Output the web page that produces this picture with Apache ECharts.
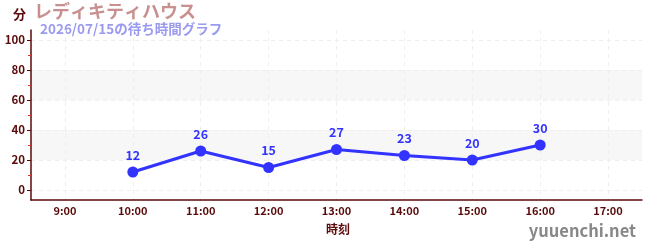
<!DOCTYPE html>
<html><head><meta charset="utf-8">
<script src="https://cdn.jsdelivr.net/npm/echarts@6/dist/echarts.min.js"></script>
<style>html,body{margin:0;padding:0;background:#fff}#c{width:650px;height:250px}</style>
</head><body><div id="c"></div>
<script>
const categories = ['9:00','10:00','11:00','12:00','13:00','14:00','15:00','16:00','17:00'];
const waitTimes = [null, 12, 26, 15, 27, 23, 20, 30, null];
const yMajorTicks = [0, 20, 40, 60, 80, 100];
const yMinorTicks = [10, 30, 50, 70, 90];
const titleText = 'レディキティハウス';
const subtitleText = '2026/07/15の待ち時間グラフ';
const yUnit = '分';
const xName = '時刻';
const siteName = 'yuuenchi.net';

const FONT = '"Noto Sans CJK JP", "Noto Sans", sans-serif';
const DARK = '#5a0a0a';
const half = 611 / 9 / 2;
const chart = echarts.init(document.getElementById('c'));
chart.setOption({
  animation: false,
  textStyle: { fontFamily: FONT },
  graphic: [
    { type: 'text', left: 13, top: 8, style: { text: yUnit, fill: DARK, font: 'bold 13px ' + FONT } },
    { type: 'text', left: 34, top: 2, style: { text: titleText, fill: '#c89090', font: 'bold 18px ' + FONT } },
    { type: 'text', left: 40, top: 22, style: { text: subtitleText, fill: '#9a9af0', font: 'bold 13.5px ' + FONT } },
    { type: 'text', left: 326, top: 223, style: { text: xName, fill: DARK, font: 'bold 12px ' + FONT } },
    { type: 'text', right: 14, top: 222, style: { text: siteName, fill: '#888', font: 'bold 16.5px ' + FONT } }
  ],
  grid: [
    { left: 31, right: 8, top: 30, bottom: 50 },
    { left: 31, right: 8, top: 40, bottom: 60 },
    { left: 31 + half, right: 8 + half, top: 30, bottom: 50 }
  ],
  xAxis: [
    { type: 'category', gridIndex: 0, data: categories, boundaryGap: true,
      axisLine: { onZero: false, lineStyle: { color: DARK, width: 1.5 } },
      axisTick: { alignWithLabel: true, length: 4, lineStyle: { color: '#666' } },
      axisLabel: { color: DARK, fontWeight: 'bold', fontSize: 11, margin: 5 },
      splitLine: { show: false } },
    { type: 'category', gridIndex: 1, data: categories, show: false },
    { type: 'category', gridIndex: 2, data: categories, boundaryGap: false,
      axisLine: { show: false }, axisTick: { show: false }, axisLabel: { show: false },
      splitLine: { show: true, interval: 0, lineStyle: { color: '#eee', type: [4, 4] } } }
  ],
  yAxis: [
    { type: 'value', gridIndex: 0, min: -20/3, max: 320/3,
      axisLine: { show: true, lineStyle: { color: DARK, width: 1.5 } },
      axisTick: { show: true, length: 4, inside: false, customValues: yMajorTicks, lineStyle: { color: DARK } },
      axisLabel: { color: DARK, fontWeight: 'bold', fontSize: 11.5, margin: 6, customValues: yMajorTicks },
      splitLine: { show: false } },
    { type: 'value', gridIndex: 0, min: -20/3, max: 320/3, position: 'left',
      axisLine: { show: false },
      axisTick: { show: true, length: 3, customValues: yMinorTicks, lineStyle: { color: '#e03030' } },
      axisLabel: { show: false }, splitLine: { show: false } },
    { type: 'value', gridIndex: 1, min: 0, max: 100, interval: 20,
      axisLine: { show: false }, axisTick: { show: false }, axisLabel: { show: false },
      splitLine: { show: true, lineStyle: { color: '#eee', type: [4, 4] } },
      splitArea: { show: true, areaStyle: { color: ['rgba(255,255,255,0)', '#f7f7f7'] } } },
    { type: 'value', gridIndex: 2, show: false, splitLine: { show: false } }
  ],
  series: [{
    type: 'line', xAxisIndex: 0, yAxisIndex: 0, data: waitTimes,
    symbol: 'circle', symbolSize: 11, connectNulls: false,
    lineStyle: { color: '#3333ff', width: 3 },
    itemStyle: { color: '#3333ff' },
    label: { show: true, position: 'top', color: '#3333ff', fontWeight: 'bold', fontSize: 12.5, distance: 5 },
    z: 5
  }]
});
</script></body></html>
